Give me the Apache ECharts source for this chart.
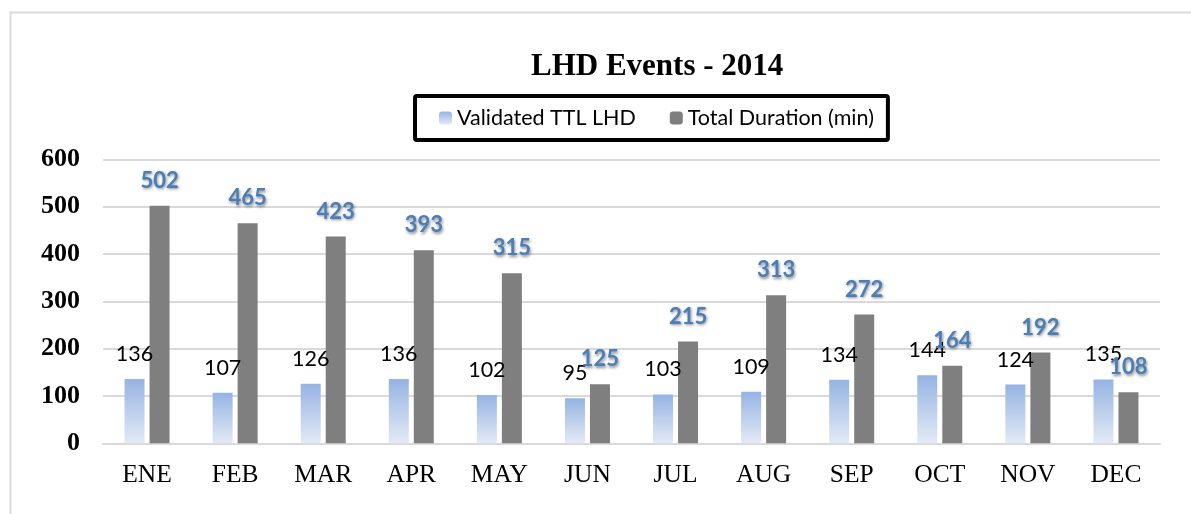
<!DOCTYPE html>
<html>
<head>
<meta charset="utf-8">
<script src="https://cdn.jsdelivr.net/npm/echarts@6/dist/echarts.min.js"></script>
<style>
html,body{margin:0;padding:0;background:#fff;}
#chart{width:1191px;height:514px;}
</style>
</head>
<body>
<div id="chart"></div>
<script>
const months = ['ENE','FEB','MAR','APR','MAY','JUN','JUL','AUG','SEP','OCT','NOV','DEC'];
const validatedTTL = [136,107,126,136,102,95,103,109,134,144,124,135];
const totalDuration = [502,465,437,408,359,125,215,313,272,164,192,108];
const durationLabels = [502,465,423,393,315,125,215,313,272,164,192,108];
const yTicks = [0,100,200,300,400,500,600];

const chart = echarts.init(document.getElementById('chart'), null, {renderer:'canvas'});
const option = {
  backgroundColor:'#ffffff',
  animation:false,
  graphic:[{
    type:'rect', left:8, top:10, z:-1,
    shape:{width:1200, height:520},
    style:{fill:'none', stroke:'#d9d9d9', lineWidth:2}
  }],
  title:{
    text:'LHD Events - 2014',
    left:531, top:51, padding:0,
    textStyle:{fontFamily:'Liberation Serif', fontWeight:'bold', fontSize:31, color:'#000'}
  },
  legend:{
    left:415, top:96,
    padding:[11,14,11,24],
    borderColor:'#000', borderWidth:4, borderRadius:2,
    itemWidth:13, itemHeight:13, itemGap:34,
    textStyle:{fontFamily:'Lato', fontSize:21.5, color:'#000', padding:[0,0,0,0]},
    data:['Validated TTL LHD','Total Duration (min)']
  },
  grid:{left:103, right:31, top:159.3, bottom:70.7, containLabel:false},
  xAxis:{
    type:'category', data:months,
    axisLine:{lineStyle:{color:'#d9d9d9', width:2}},
    axisTick:{show:false},
    axisLabel:{fontFamily:'Liberation Serif', fontSize:25.5, color:'#000', margin:19}
  },
  yAxis:{
    type:'value', min:yTicks[0], max:yTicks[yTicks.length-1], interval:yTicks[1]-yTicks[0],
    axisLine:{show:false}, axisTick:{show:false},
    splitLine:{lineStyle:{color:'#d9d9d9', width:2}},
    axisLabel:{fontFamily:'Liberation Serif', fontWeight:'bold', fontSize:26, color:'#000', margin:23}
  },
  series:[
    {
      name:'Validated TTL LHD', type:'bar', data:validatedTTL,
      barWidth:20, barGap:'25%',
      itemStyle:{color:new echarts.graphic.LinearGradient(0,0,0,1,[
        {offset:0,color:'#95b3e3'},{offset:1,color:'#e3eaf6'}])},
      label:{show:true, position:'top', distance:14,
        fontFamily:'Lato', fontSize:21.5, color:'#000'}
    },
    {
      name:'Total Duration (min)', type:'bar', data:totalDuration,
      barWidth:20,
      itemStyle:{color:'#7f7f7f'},
      label:{show:true, position:'top', distance:14,
        formatter:p=>String(durationLabels[p.dataIndex]),
        fontFamily:'Lato', fontWeight:'bold', fontSize:22, color:'#4a7ebb',
        textShadowColor:'rgba(0,0,0,0.45)', textShadowBlur:3, textShadowOffsetX:1, textShadowOffsetY:1.5}
    }
  ]
};
chart.setOption(option);
</script>
</body>
</html>
